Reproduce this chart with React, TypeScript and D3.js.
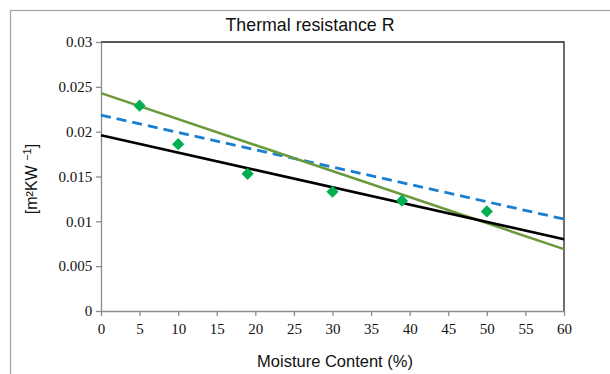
import { useEffect, useRef } from "react";
import * as d3 from "d3";

// datos medidos (marcadores)
const moisture = [5, 10, 19, 30, 39, 50];
const resistance = [0.0229, 0.0186, 0.0153, 0.0133, 0.0123, 0.0111];

// rectas de ajuste (extremos en x = 0 y x = 60)
const lineX = [0, 60];
const blackLine = [0.0196, 0.0080];
const greenLine = [0.0243, 0.0069];
const blueLine = [0.02185, 0.01025];

const xTicks = [0, 5, 10, 15, 20, 25, 30, 35, 40, 45, 50, 55, 60];
const yTicks = [0, 0.005, 0.01, 0.015, 0.02, 0.025, 0.03];

const W = 610;
const H = 374;

const App = () => {
  const ref = useRef<SVGSVGElement | null>(null);

  useEffect(() => {
    if (!ref.current) return;
    const svg = d3.select(ref.current);
    svg.selectAll("*").remove();

    const margin = { top: 42, left: 101, right: 46, bottom: 63 };
    const width = W - margin.left - margin.right;
    const height = H - margin.top - margin.bottom;

    // marco exterior del gráfico
    svg.append("rect")
      .attr("x", 10.5).attr("y", 10.5)
      .attr("width", W + 20).attr("height", H + 20)
      .attr("fill", "white").attr("stroke", "#a6a6a6").attr("stroke-width", 1.2);

    const g = svg.append("g").attr("transform", `translate(${margin.left},${margin.top})`);

    const x = d3.scaleLinear().domain([0, 60]).range([0, width]);
    const y = d3.scaleLinear().domain([0, 0.03]).range([height, 0]);

    // borde superior y derecho
    g.append("path")
      .attr("d", `M0,0H${width}V${height}`)
      .attr("fill", "none").attr("stroke", "#222").attr("stroke-width", 1.3);

    const xAxis = g.append("g")
      .attr("transform", `translate(0,${height})`)
      .call(d3.axisBottom(x).tickValues(xTicks).tickSize(5).tickSizeOuter(0).tickFormat(d3.format("d")));
    const yAxis = g.append("g")
      .call(d3.axisLeft(y).tickValues(yTicks).tickSize(5).tickSizeOuter(0).tickFormat((d) => String(+d)));

    [xAxis, yAxis].forEach((a) => {
      a.selectAll("line, path").attr("stroke", "#8c8c8c").attr("stroke-width", 1.3);
      a.selectAll("text")
        .attr("fill", "#111")
        .style("font-family", "'Liberation Serif', 'Times New Roman', serif")
        .style("font-size", "15px");
    });
    xAxis.selectAll("text").attr("dy", "1.0em");
    yAxis.selectAll("text").attr("dx", "-0.05em");

    const line = d3.line<[number, number]>().x((d) => x(d[0])).y((d) => y(d[1]));
    const pts = (vals: number[]) => lineX.map((v, i) => [v, vals[i]] as [number, number]);

    g.append("path").attr("d", line(pts(blueLine)))
      .attr("fill", "none").attr("stroke", "#1a7fd0").attr("stroke-width", 2.8)
      .attr("stroke-dasharray", "10,6");
    g.append("path").attr("d", line(pts(greenLine)))
      .attr("fill", "none").attr("stroke", "#6b9a3c").attr("stroke-width", 2.6);
    g.append("path").attr("d", line(pts(blackLine)))
      .attr("fill", "none").attr("stroke", "#000").attr("stroke-width", 2.6);

    g.selectAll(".pt")
      .data(moisture.map((m, i) => [m, resistance[i]]))
      .enter()
      .append("path")
      .attr("class", "pt")
      .attr("transform", (d) => `translate(${x(d[0])},${y(d[1])})`)
      .attr("d", d3.symbol(d3.symbolDiamond2, 95)())
      .attr("fill", "#00b050");

    const sans = "'Liberation Sans', Arial, sans-serif";
    svg.append("text")
      .attr("x", 310).attr("y", 31)
      .attr("text-anchor", "middle")
      .style("font-family", sans).style("font-size", "17.8px").attr("fill", "#111")
      .text("Thermal resistance R");

    svg.append("text")
      .attr("x", 335).attr("y", 367)
      .attr("text-anchor", "middle")
      .style("font-family", sans).style("font-size", "16.5px").attr("fill", "#111")
      .text("Moisture Content (%)");

    const yl = svg.append("text")
      .attr("transform", `translate(37,179) rotate(-90)`)
      .attr("text-anchor", "middle")
      .style("font-family", sans).style("font-size", "16px").attr("fill", "#111");
    yl.append("tspan").text("[m²KW ");
    yl.append("tspan").attr("dy", -6).style("font-size", "11px").text("−1");
    yl.append("tspan").attr("dy", 6).text("]");
  }, []);

  return (
    <svg
      ref={ref}
      width={W}
      height={H}
      style={{ position: "absolute", left: 0, top: 0, display: "block", background: "white" }}
    />
  );
};

export default App;
